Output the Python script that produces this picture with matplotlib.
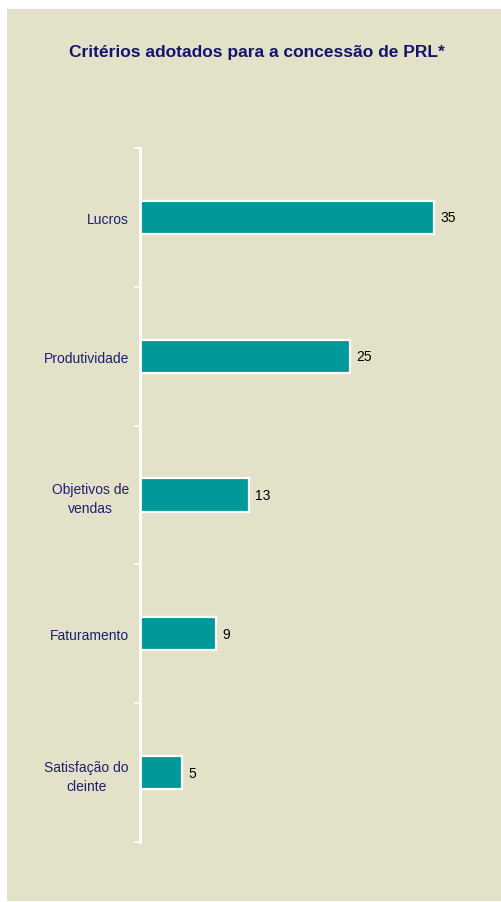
import matplotlib.pyplot as plt
from matplotlib.patches import Rectangle

plt.rcParams['font.family'] = ['Liberation Sans', 'DejaVu Sans']

categorias = ['Lucros', 'Produtividade', 'Objetivos de\nvendas', 'Faturamento', 'Satisfação do\ncleinte']
valores = [35, 25, 13, 9, 5]
titulo = 'Critérios adotados para a concessão de PRL*'

W, H = 502, 903
fig = plt.figure(figsize=(W / 100, H / 100), dpi=100)

# fundo bege com margem branca
fig.patches.append(Rectangle((7 / W, 1 / H), 1 - 7 / W, (902 - 10) / H,
                             transform=fig.transFigure, facecolor='#E3E2C9',
                             edgecolor='none', zorder=-1))

ax = fig.add_axes([140 / W, 1 - 843 / H, 336 / W, (843 - 149) / H])
ax.set_facecolor('none')

pos = list(range(len(categorias)))
barras = ax.barh(pos, valores, height=0.24, color='#009999',
                 edgecolor='white', linewidth=1.6)
ax.set_xlim(0, 40)
ax.set_ylim(len(categorias) - 0.5, -0.5)

for b, v in zip(barras, valores):
    ax.text(b.get_width() + 0.75, b.get_y() + b.get_height() / 2, str(v),
            va='center', ha='left', fontsize=10, color='black')

ax.set_yticks(pos)
ax.set_yticklabels(categorias, fontsize=10, color='#1E1E72')
for t in ax.get_yticklabels():
    t.set_multialignment('center')
    t.set_linespacing(1.45)
ax.tick_params(axis='y', which='major', length=0, pad=8)
ax.set_yticks([p - 0.5 for p in pos] + [len(categorias) - 0.5], minor=True)
ax.tick_params(axis='y', which='minor', length=4, width=1.2, color='white')

for s in ['top', 'right', 'bottom']:
    ax.spines[s].set_visible(False)
ax.spines['left'].set_color('white')
ax.spines['left'].set_linewidth(2)
ax.xaxis.set_visible(False)

fig.text(257 / W, 1 - 52 / H, titulo, ha='center', va='center',
         fontsize=12.5, fontweight='bold', color='#14146E')

fig.savefig('out.png', dpi=100)
